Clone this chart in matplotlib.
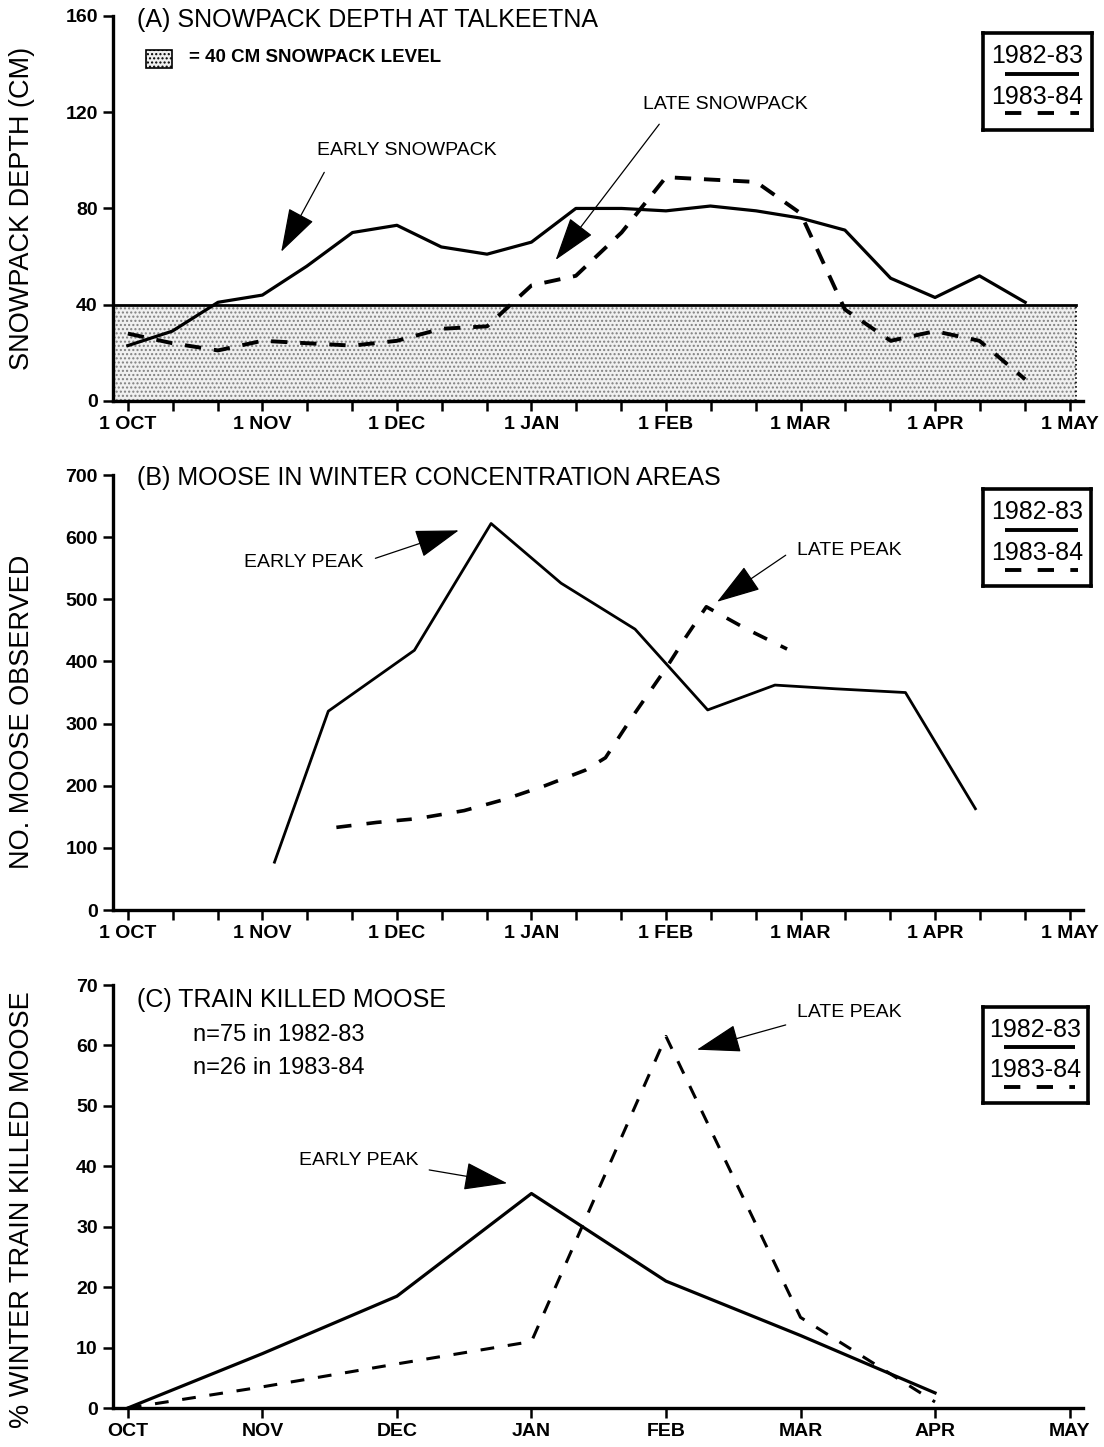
"""
Snowpack depth, moose in winter concentration areas and train-killed moose,
1982-83 vs 1983-84 (three stacked panels).
"""

import matplotlib.pyplot as plt
from matplotlib.patches import Rectangle
import numpy as np

plt.rcParams['font.family'] = ['Liberation Sans', 'DejaVu Sans']
plt.rcParams['hatch.linewidth'] = 1.0

# x values are months after 1 October (month widths treated as equal)
month_labels_ab = ["1 OCT", "1 NOV", "1 DEC", "1 JAN", "1 FEB", "1 MAR", "1 APR", "1 MAY"]
month_labels_c = ["OCT", "NOV", "DEC", "JAN", "FEB", "MAR", "APR", "MAY"]

# (A) snowpack depth at Talkeetna (cm), 10-day readings
snow_x = [0, 0.33, 0.67, 1, 1.33, 1.67, 2, 2.33, 2.67, 3, 3.33, 3.67, 4, 4.33,
          4.67, 5, 5.33, 5.67, 6, 6.33, 6.67]
snow_8283 = [23, 29, 41, 44, 56, 70, 73, 64, 61, 66, 80, 80, 79, 81, 79, 76, 71, 51, 43, 52, 41]
snow_8384 = [28, 24, 21, 25, 24, 23, 25, 30, 31, 48, 52, 70, 93, 92, 91, 78, 38, 25, 29, 25, 9]
snow_level = 40
shade_end = 7.05

# (B) moose observed in winter concentration areas
moose_x_8283 = [1.09, 1.49, 2.13, 2.70, 3.22, 3.77, 4.31, 4.81, 5.26, 5.78, 6.30]
moose_8283 = [77, 320, 418, 622, 526, 452, 322, 362, 356, 350, 163]
moose_x_8384 = [1.55, 1.85, 2.15, 2.5, 2.8, 3.1, 3.4, 3.55, 3.75, 4.0, 4.15, 4.3, 4.6, 4.9]
moose_8384 = [133, 141, 147, 160, 178, 200, 225, 245, 311, 389, 440, 488, 452, 420]

# (C) % of winter train-killed moose by month
kill_x = [0, 1, 2, 3, 4, 5, 6]
kill_8283 = [0, 9, 18.5, 35.5, 21, 12, 2.5]
kill_8384 = [0, 3.5, 7.3, 11, 61.5, 15, 1]

XLIM = (-0.11, 7.1)
ARROW = dict(arrowstyle='-|>,head_length=1.4,head_width=0.45', color='k', lw=0.9,
             shrinkA=0, shrinkB=0, mutation_scale=20)
TICK_FS = 14
YLAB_FS = 19.5
TITLE_FS = 18
NOTE_FS = 14


def style_axes(ax, yticks, xticks, xlabels):
    for s in ['top', 'right']:
        ax.spines[s].set_visible(False)
    for s in ['left', 'bottom']:
        ax.spines[s].set_linewidth(2.4)
    ax.set_xlim(*XLIM)
    ax.set_yticks(yticks, labels=[str(v) for v in yticks], fontweight='bold', fontsize=TICK_FS)
    ax.set_xticks(xticks, labels=xlabels, fontweight='bold', fontsize=TICK_FS)
    ax.tick_params(direction='out', length=7, width=1.8, pad=4)


def year_box(rect):
    bx = fig.add_axes(rect)
    bx.set_xticks([])
    bx.set_yticks([])
    for s in bx.spines.values():
        s.set_linewidth(2.6)
    bx.set_xlim(0, 1)
    bx.set_ylim(0, 1)
    bx.text(0.5, 0.76, "1982-83", ha='center', va='center', fontsize=18)
    bx.plot([0.2, 0.88], [0.58, 0.58], color='k', lw=2.8, solid_capstyle='butt')
    bx.text(0.5, 0.34, "1983-84", ha='center', va='center', fontsize=18)
    bx.plot([0.2, 0.88], [0.17, 0.17], color='k', lw=2.8, dashes=(4.2, 4.2))


fig = plt.figure(figsize=(11.04, 14.47), dpi=100)

ticks_third = np.arange(0, 7.01, 1 / 3)
labels_third = [month_labels_ab[i // 3] if i % 3 == 0 else '' for i in range(len(ticks_third))]

# ---------------- (A) ----------------
ax = fig.add_axes([0.1024, 0.7229, 0.8786, 0.2661])
ax.set_ylim(0, 160)
ax.fill_between([XLIM[0], shade_end], 0, snow_level, facecolor='#f0f0f0', hatch='....',
                edgecolor='0.5', linewidth=0, zorder=1)
ax.plot([XLIM[0], shade_end], [snow_level, snow_level], color='k', lw=2, zorder=2)
ax.plot([shade_end, shade_end], [0, snow_level], color='k', lw=1.2, ls=':', zorder=2)
ax.plot(snow_x, snow_8283, color='k', lw=2.3, zorder=3)
ax.plot(snow_x, snow_8384, color='k', lw=2.8, dashes=(4.2, 3.3), zorder=3)
style_axes(ax, [0, 40, 80, 120, 160], ticks_third, labels_third)
ax.set_ylabel("SNOWPACK DEPTH (CM)", fontsize=YLAB_FS)
ax.yaxis.set_label_coords(-0.08, 0.5)
ax.text(0.025, 0.99, "(A) SNOWPACK DEPTH AT TALKEETNA", transform=ax.transAxes,
        fontsize=TITLE_FS, va='center', ha='left')
ax.add_patch(Rectangle((0.034, 0.865), 0.027, 0.047, transform=ax.transAxes,
                       facecolor='#f0f0f0', hatch='....', edgecolor='k', lw=1.2))
ax.text(0.078, 0.891, "= 40 CM SNOWPACK LEVEL", transform=ax.transAxes,
        fontsize=13.5, fontweight='bold', va='center', ha='left')
ax.text(2.07, 104, "EARLY SNOWPACK", fontsize=NOTE_FS, ha='center', va='center')
ax.annotate('', xy=(1.14, 62), xytext=(1.46, 95), arrowprops=ARROW)
ax.text(4.44, 123, "LATE SNOWPACK", fontsize=NOTE_FS, ha='center', va='center')
ax.annotate('', xy=(3.18, 58.6), xytext=(3.95, 115), arrowprops=ARROW)
year_box([0.8904, 0.9102, 0.0987, 0.067])

# ---------------- (B) ----------------
ax = fig.add_axes([0.1024, 0.3711, 0.8786, 0.3006])
ax.set_ylim(0, 700)
ax.plot(moose_x_8283, moose_8283, color='k', lw=2.0)
ax.plot(moose_x_8384, moose_8384, color='k', lw=2.6, dashes=(4.2, 4.2))
style_axes(ax, list(range(0, 701, 100)), ticks_third, labels_third)
ax.set_ylabel("NO. MOOSE OBSERVED", fontsize=YLAB_FS)
ax.yaxis.set_label_coords(-0.08, 0.455)
ax.text(0.025, 0.993, "(B) MOOSE IN WINTER CONCENTRATION AREAS", transform=ax.transAxes,
        fontsize=TITLE_FS, va='center', ha='left')
ax.text(1.31, 560, "EARLY PEAK", fontsize=NOTE_FS, ha='center', va='center')
ax.annotate('', xy=(2.46, 611), xytext=(1.84, 566), arrowprops=ARROW)
ax.text(5.36, 579, "LATE PEAK", fontsize=NOTE_FS, ha='center', va='center')
ax.annotate('', xy=(4.38, 496), xytext=(4.89, 571), arrowprops=ARROW)
year_box([0.8904, 0.595, 0.0978, 0.067])

# ---------------- (C) ----------------
ax = fig.add_axes([0.1024, 0.02695, 0.8786, 0.2923])
ax.set_ylim(0, 70)
ax.plot(kill_x, kill_8283, color='k', lw=2.3)
ax.plot(kill_x, kill_8384, color='k', lw=2.2, dashes=(4.5, 4.5))
style_axes(ax, list(range(0, 71, 10)), list(range(8)), month_labels_c)
ax.set_ylabel("% WINTER TRAIN KILLED MOOSE", fontsize=YLAB_FS)
ax.yaxis.set_label_coords(-0.08, 0.468)
ax.text(0.025, 0.965, "(C) TRAIN KILLED MOOSE", transform=ax.transAxes,
        fontsize=TITLE_FS, va='center', ha='left')
ax.text(0.0825, 0.882, "n=75 in 1982-83", transform=ax.transAxes,
        fontsize=17, va='center', ha='left')
ax.text(0.0825, 0.804, "n=26 in 1983-84", transform=ax.transAxes,
        fontsize=17, va='center', ha='left')
ax.text(1.72, 41, "EARLY PEAK", fontsize=NOTE_FS, ha='center', va='center')
ax.annotate('', xy=(2.82, 37.2), xytext=(2.24, 39.4), arrowprops=ARROW)
ax.text(5.36, 65.4, "LATE PEAK", fontsize=NOTE_FS, ha='center', va='center')
ax.annotate('', xy=(4.23, 59.3), xytext=(4.89, 63.4), arrowprops=ARROW)
year_box([0.8904, 0.2377, 0.095, 0.0663])

fig.savefig("out.png", dpi=100)
